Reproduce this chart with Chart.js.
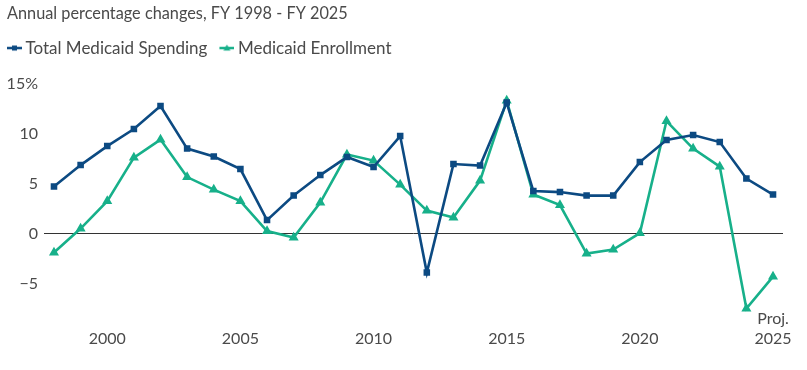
<!DOCTYPE html>
<html>
<head>
<meta charset="utf-8">
<script src="https://cdn.jsdelivr.net/npm/chart.js@4.4.1/dist/chart.umd.min.js"></script>
<style>
  html, body { margin: 0; padding: 0; background: #fff; }
  #wrap { width: 807px; height: 370px; }
</style>
</head>
<body>
<div id="wrap"><canvas id="grafico"></canvas></div>
<script>
// anos fiscais e variações anuais (%)
const anos = [1998, 1999, 2000, 2001, 2002, 2003, 2004, 2005, 2006, 2007, 2008, 2009, 2010, 2011,
              2012, 2013, 2014, 2015, 2016, 2017, 2018, 2019, 2020, 2021, 2022, 2023, 2024, 2025];
const gastoTotal = [4.7, 6.85, 8.75, 10.45, 12.75, 8.5, 7.7, 6.45, 1.35, 3.8, 5.85, 7.65, 6.65, 9.75,
                    -3.9, 6.95, 6.8, 13.1, 4.25, 4.15, 3.8, 3.8, 7.15, 9.35, 9.85, 9.15, 5.5, 3.9];
const inscricoes = [-1.9, 0.5, 3.25, 7.6, 9.4, 5.65, 4.4, 3.25, 0.25, -0.4, 3.1, 7.9, 7.3, 4.9,
                    2.3, 1.6, 5.3, 13.3, 3.9, 2.85, -2.0, -1.6, 0.05, 11.25, 8.5, 6.7, -7.5, -4.3];
const ticksX = [2000, 2005, 2010, 2015, 2020, 2025];
const ticksY = [-5, 0, 5, 10, 15];

const azul = "#0c4a82";
const verde = "#17b08a";
const corTexto = "#4a4a4a";
const fonte = "Lato, 'Open Sans', sans-serif";

// ícone da legenda: linha com o marcador no meio
function iconeLegenda(cor, forma) {
    const c = document.createElement("canvas");
    c.width = 20; c.height = 10;
    const g = c.getContext("2d");
    g.strokeStyle = cor; g.fillStyle = cor; g.lineWidth = 2.5;
    g.beginPath(); g.moveTo(5, 5); g.lineTo(20, 5); g.stroke();
    g.beginPath();
    if (forma === "quadrado") {
        g.rect(10, 2.5, 5, 5);
    } else {
        g.moveTo(12.5, 1.5); g.lineTo(16, 7.5); g.lineTo(9, 7.5); g.closePath();
    }
    g.fill();
    return c;
}

// espaço extra abaixo da legenda e legenda encostada à esquerda
const ajusteLegenda = {
    id: "ajusteLegenda",
    beforeInit(chart) {
        const fitOriginal = chart.legend.fit;
        chart.legend.fit = function() {
            fitOriginal.bind(chart.legend)();
            this.height += 17;
        };
    },
    afterLayout(chart) {
        chart.legend.left -= 12;
        chart.legend.right -= 12;
    }
};

const pontos = (valores) => anos.map((a, i) => ({ x: a, y: valores[i] }));

new Chart(document.getElementById("grafico"), {
    type: "line",
    data: {
        datasets: [
            {
                label: "Total Medicaid Spending",
                data: pontos(gastoTotal),
                borderColor: azul,
                backgroundColor: azul,
                borderWidth: 2.6,
                pointStyle: "rect",
                pointRadius: 2.8,
                pointHoverRadius: 3,
                tension: 0,
                clip: false
            },
            {
                label: "Medicaid Enrollment",
                data: pontos(inscricoes),
                borderColor: verde,
                backgroundColor: verde,
                borderWidth: 2.6,
                pointStyle: "triangle",
                pointRadius: 3.2,
                pointHoverRadius: 4,
                tension: 0,
                clip: false
            }
        ]
    },
    plugins: [ajusteLegenda],
    options: {
        responsive: true,
        maintainAspectRatio: false,
        animation: false,
        layout: { padding: { left: 7, right: 24, top: 0, bottom: 19 } },
        plugins: {
            title: {
                display: true,
                text: "Annual percentage changes, FY 1998 - FY 2025",
                align: "start",
                color: corTexto,
                font: { family: fonte, size: 16.3, weight: "normal" },
                padding: { top: 4, bottom: 4 }
            },
            legend: {
                align: "start",
                labels: {
                    color: corTexto,
                    font: { family: fonte, size: 17 },
                    usePointStyle: true,
                    pointStyleWidth: 10,
                    padding: 12,
                    generateLabels: function(chart) {
                        const base = Chart.defaults.plugins.legend.labels.generateLabels(chart);
                        return base.map((item, i) => {
                            item.pointStyle = iconeLegenda(i === 0 ? azul : verde, i === 0 ? "quadrado" : "triangulo");
                            return item;
                        });
                    }
                }
            },
            tooltip: { enabled: false }
        },
        scales: {
            x: {
                type: "linear",
                min: 1997.625,
                max: 2025.375,
                grid: { display: false, drawTicks: false },
                border: { display: false },
                afterBuildTicks: function(eixo) {
                    eixo.ticks = ticksX.map(v => ({ value: v }));
                },
                ticks: {
                    color: corTexto,
                    font: { family: fonte, size: 16 },
                    maxRotation: 0,
                    autoSkip: false,
                    padding: 3,
                    callback: function(valor) {
                        return valor === 2025 ? ["Proj.", "2025"] : ["", String(valor)];
                    }
                }
            },
            y: {
                min: -7.3,
                max: 15,
                afterBuildTicks: function(eixo) {
                    eixo.ticks = ticksY.map(v => ({ value: v }));
                },
                afterFit: function(eixo) {
                    eixo.width = 37;
                },
                border: { display: false },
                grid: {
                    drawTicks: false,
                    color: ctx => ctx.tick && ctx.tick.value === 0 ? "#333333" : "rgba(0,0,0,0)",
                    lineWidth: 1
                },
                ticks: {
                    color: corTexto,
                    font: { family: fonte, size: 16 },
                    padding: 6,
                    callback: function(valor) {
                        if (valor === 15) return "15%";
                        if (valor < 0) return "\u2212" + Math.abs(valor);
                        return String(valor);
                    }
                }
            }
        }
    }
});
</script>
</body>
</html>
